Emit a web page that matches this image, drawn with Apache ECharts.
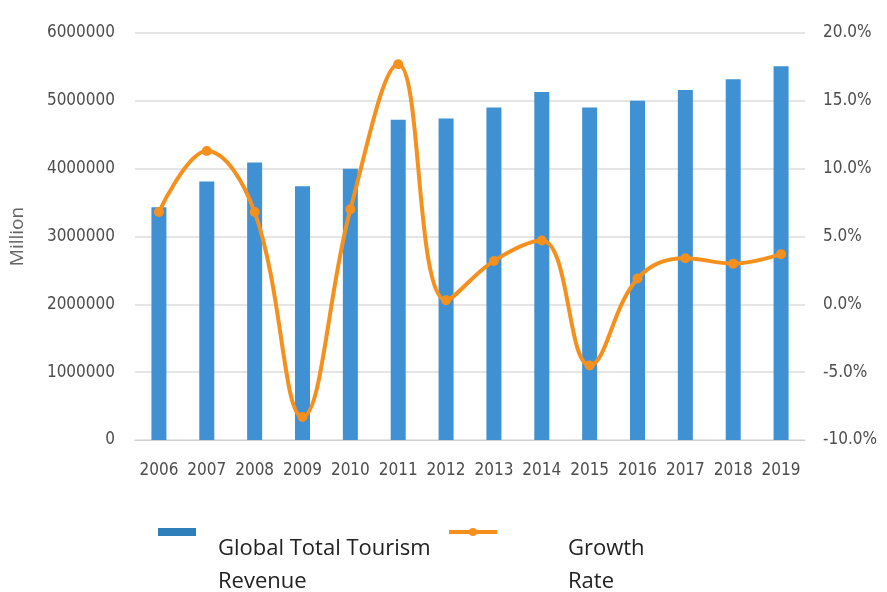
<!DOCTYPE html>
<html><head><meta charset="utf-8">
<script src="https://cdn.jsdelivr.net/npm/echarts@6/dist/echarts.min.js"></script>
<style>html,body{margin:0;padding:0;background:#fff}#c{width:887px;height:592px}</style>
</head><body><div id="c"></div>
<script>
const years = ['2006','2007','2008','2009','2010','2011','2012','2013','2014','2015','2016','2017','2018','2019'];
const revenue = [3430000,3810000,4090000,3740000,4000000,4720000,4740000,4900000,5130000,4900000,5000000,5160000,5320000,5510000];
const growth = [6.8,11.3,6.8,-8.3,7.0,17.7,0.3,3.2,4.7,-4.5,1.9,3.4,3.0,3.7];
const leftTicks = [0,1000000,2000000,3000000,4000000,5000000,6000000];
const rightTicks = [-10,-5,0,5,10,15,20];
const revName = 'Global Total Tourism\nRevenue';
const growName = 'Growth\nRate';

const font = '"DejaVu Sans Condensed","Liberation Sans Narrow","Open Sans",sans-serif';
function legendFmt(n){
  return '{e|}\n{e|}\n' + n.split('\n').map(s=>'{t|'+s+'}').join('\n');
}
function legendText(pad){
  return {fontFamily:'"Open Sans",sans-serif', fontSize:22, color:'#222', lineHeight:33,
    rich:{e:{lineHeight:33, fontSize:22}, t:{fontFamily:'"Open Sans",sans-serif', fontSize:22, color:'#222', lineHeight:33, padding:[0,0,0,pad]}}};
}
const chart = echarts.init(document.getElementById('c'));
chart.setOption({
  backgroundColor:'#fff',
  animation:false,
  grid:{left:135,right:82,top:33,bottom:152},
  legend:[{
    left:153, top:461, itemWidth:38, itemHeight:8,
    data:[{name:revName, icon:'rect', itemStyle:{color:'#2f7fba'}}],
    formatter:legendFmt, textStyle:legendText(17)
  },{
    left:442, top:461, itemWidth:48, itemHeight:10,
    data:[{name:growName, lineStyle:{width:4, color:'#f5901d'}}],
    formatter:legendFmt, textStyle:legendText(66)
  }],
  xAxis:{type:'category', data:years,
    axisLine:{lineStyle:{color:'#d0d0d0',width:1}}, axisTick:{show:false},
    axisLabel:{color:'#4d4d4d', fontSize:17, fontFamily:font, margin:22, interval:0}},
  yAxis:[{type:'value', min:leftTicks[0], max:leftTicks[leftTicks.length-1], interval:1000000,
    name:'Million', nameLocation:'middle', nameGap:108, nameRotate:90,
    nameTextStyle:{color:'#666', fontSize:19, fontFamily:'"Open Sans",sans-serif'},
    axisLine:{show:false}, axisTick:{show:false},
    axisLabel:{color:'#4d4d4d', fontSize:17, fontFamily:font, margin:20, formatter:v=>String(v)},
    splitLine:{lineStyle:{color:'#dcdcdc', width:1.5}}},
   {type:'value', min:rightTicks[0], max:rightTicks[rightTicks.length-1], interval:5,
    axisLine:{show:false}, axisTick:{show:false}, splitLine:{show:false},
    axisLabel:{color:'#4d4d4d', fontSize:17, fontFamily:font, margin:18, formatter:v=>v.toFixed(1)+'%'}}],
  series:[
    {name:revName, type:'bar', data:revenue, barWidth:15,
     itemStyle:{color:'#3f91d3'}},
    {name:growName, type:'line', yAxisIndex:1, data:growth, smooth:0.4,
     symbol:'circle', symbolSize:10, lineStyle:{color:'#f5901d', width:4},
     itemStyle:{color:'#f5901d'}}
  ]
});
</script></body></html>
